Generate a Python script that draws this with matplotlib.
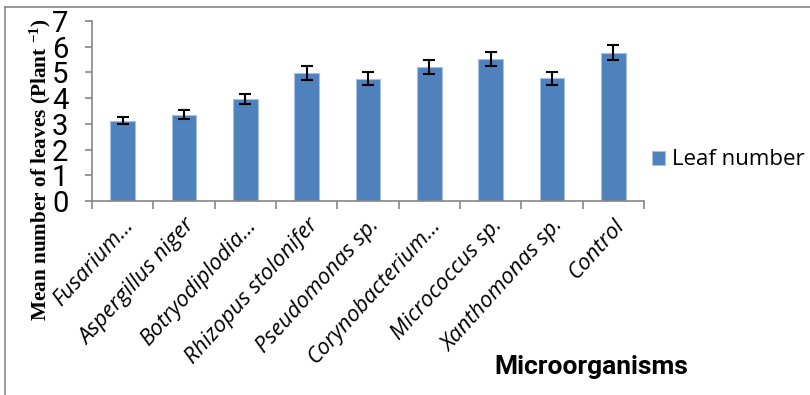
import matplotlib
matplotlib.use("Agg")
import matplotlib.pyplot as plt
from matplotlib.lines import Line2D
import numpy as np

categories = ["Fusarium...", "Aspergillus niger", "Botryodiplodia...", "Rhizopus stolonifer",
              "Pseudomonas sp.", "Corynobacterium...", "Micrococcus sp.", "Xanthomonas sp.", "Control"]
leaf_number = [3.13, 3.36, 3.97, 4.98, 4.76, 5.21, 5.52, 4.78, 5.77]
errors = [0.15, 0.16, 0.20, 0.27, 0.25, 0.26, 0.28, 0.25, 0.30]
yticks = [0, 1, 2, 3, 4, 5, 6, 7]

plt.rcParams['mathtext.fontset'] = 'custom'
plt.rcParams['mathtext.rm'] = 'Liberation Serif:bold'
plt.rcParams['mathtext.default'] = 'rm'

fig = plt.figure(figsize=(8.1, 3.95), dpi=100)
ax = fig.add_axes([92/810, 1-201/395, (644-92)/810, (201-21)/395])

x = np.arange(len(categories))
ax.bar(x, leaf_number, width=0.4, color='#4F81BD', edgecolor='#A7C0E0', linewidth=0.8,
       label='Leaf number', zorder=2)
ax.errorbar(x, leaf_number, yerr=errors, fmt='none', ecolor='black', elinewidth=1.5,
            capsize=4.3, capthick=1.5, zorder=3)

ax.set_xlim(-0.5, len(categories)-0.5)
ax.set_ylim(0, 7)
ax.set_yticks(yticks)
ax.set_yticklabels([str(v) for v in yticks], family=['Roboto', 'DejaVu Sans'],
                   fontweight='normal', fontsize=21, color='black')
ax.tick_params(axis='y', direction='out', length=5, width=1.2, color='#868686', pad=12)

ax.set_xticks(x)
ax.set_xticklabels(categories, rotation=48, ha='right', rotation_mode='anchor',
                   family=['Open Sans', 'DejaVu Sans'], style='italic', fontsize=16)
ax.tick_params(axis='x', which='major', length=0, pad=10)
ax.set_xticks(np.arange(-0.5, len(categories), 1), minor=True)
ax.tick_params(axis='x', which='minor', direction='out', length=6, width=1.2, color='#868686')

for s in ['top', 'right']:
    ax.spines[s].set_visible(False)
for s in ['left', 'bottom']:
    ax.spines[s].set_color('#868686')
    ax.spines[s].set_linewidth(1.2)

fig.text(40/810, 1-170/395, 'Mean number of leaves (Plant $^{-1}$)', rotation=90,
         ha='center', va='center', family=['Liberation Serif', 'DejaVu Serif'],
         fontweight='bold', fontsize=15.3)
fig.text(591/810, 1-367/395, 'Microorganisms', ha='center', va='center',
         family=['Roboto', 'DejaVu Sans'], fontweight='bold', fontsize=19)

leg = fig.legend(loc='center left', bbox_to_anchor=(641/810, 1-160/395), frameon=False,
                 prop={'family': ['Open Sans', 'DejaVu Sans'], 'size': 16},
                 handlelength=0.6, handleheight=0.6, handletextpad=0.3, borderpad=0)

fig.add_artist(Line2D([4.5/810, 4.5/810], [0, 1-7/395], transform=fig.transFigure,
                      color='#888888', linewidth=1.2))
fig.add_artist(Line2D([4.5/810, 1], [1-7/395, 1-7/395], transform=fig.transFigure,
                      color='#888888', linewidth=1.2))

fig.savefig('out.png', dpi=100)
